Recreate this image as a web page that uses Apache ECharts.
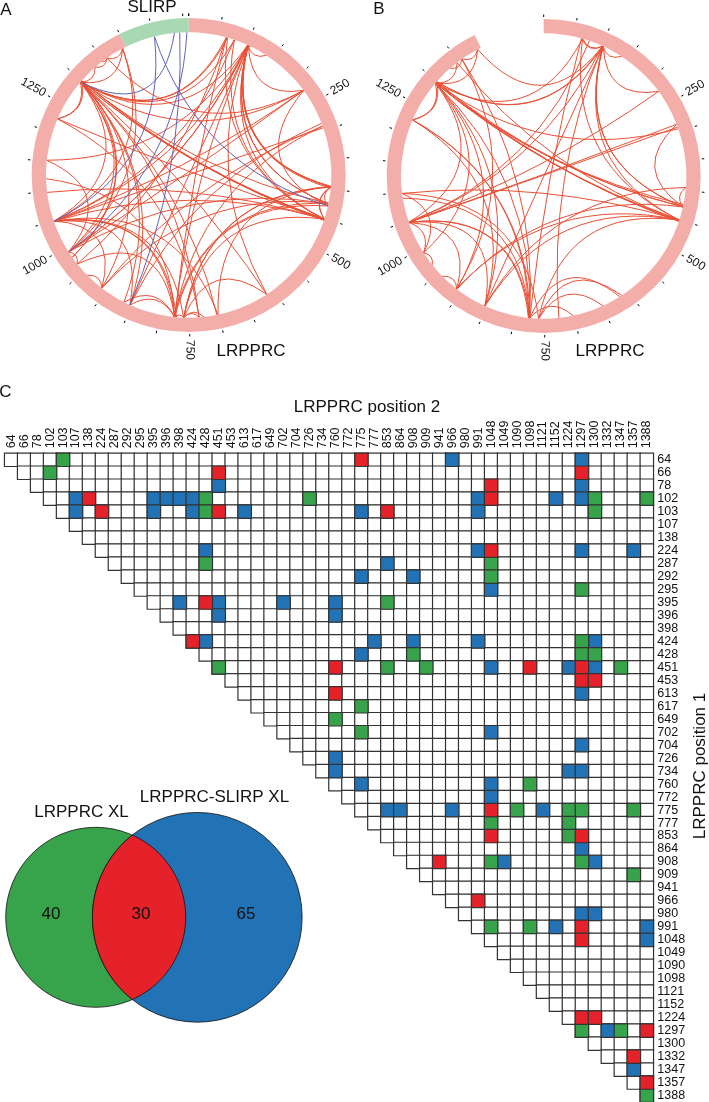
<!DOCTYPE html>
<html>
<head>
<meta charset="utf-8">
<style>html,body{margin:0;padding:0;background:#fff}#c{width:709px;height:1102px}</style>
<script src="https://cdn.jsdelivr.net/npm/echarts@6/dist/echarts.min.js"></script>
</head>
<body>
<div id="c"></div>
<script>
const positions = [64,66,78,102,103,107,138,224,287,292,295,395,396,398,424,428,451,453,613,617,649,702,704,726,734,760,772,775,777,853,864,908,909,941,966,980,991,1048,1049,1090,1098,1121,1152,1224,1297,1300,1332,1347,1357,1388];
// row residue -> column residues
const blueRows = {64:[966,1297],78:[451,1297],102:[107,395,396,398,424,991,1152,1297],103:[107,395,424,613,775,991],224:[428,991,1297,1357],287:[853],292:[775,908],295:[1048],395:[398,451,702,760],396:[451,760],424:[428,777,908,991,1300],428:[775],451:[1048,1224,1300],613:[1297],702:[1048],704:[1297],726:[760],734:[760,1224,1297],760:[775,1048],772:[1048],775:[853,864,966,1121],864:[1297],908:[1049,1300],980:[1297,1300],991:[1152,1388],1048:[1388],1297:[1332],1347:[1357]};
const redRows = {64:[775],66:[451,1297],78:[1048],102:[138,1048],103:[224,451,853],224:[1048],395:[428],424:[424],451:[760,1098,1297],453:[1297,1300],613:[760],775:[1048],853:[1048,1297],908:[941],966:[991],991:[1297],1048:[1297],1224:[1297,1300],1297:[1388],1332:[1357],1357:[1388]};
const greenRows = {64:[103],66:[102],102:[428,726,1300,1388],103:[428,1300],287:[428,1048],292:[1048],295:[1297],395:[853],424:[1297],428:[908,1297,1300],451:[451,853,909,1347],617:[775],649:[760],702:[775],760:[1098],775:[1090,1224,1297,1357],777:[1048,1224],853:[1224],908:[1048,1297],909:[1357],991:[1048,1098],1297:[1297,1347],1388:[1388]};
// SLIRP residue, LRPPRC residue
const slirpLinks = [[51,428],[51,1048],[85,1297],[94,853],[106,991]];
const lrpprcLength = 1394;
const slirpLength = 109;
const ringLabels = [250,500,750,1000,1250];
const lrpprcTicks = [0,50,100,150,200,250,300,350,400,450,500,550,600,650,700,750,800,850,900,950,1000,1050,1100,1150,1200,1250,1300,1350];
const slirpTicks = [0,50,100];
const vennNames = ['LRPPRC XL','LRPPRC-SLIRP XL','both'];
const vennCounts = [40,65,30];

const FONT = '"Liberation Sans", Arial, sans-serif';
const TOTAL = lrpprcLength + slirpLength;
const R_OUT = 157, R_IN = 142.7, R_AXIS = 159;
const RED_LINE = '#ea5036', BLUE_LINE = '#5f63b5', PINK = '#f4aeaa', MINT = '#a8d9b2';
const CELL_BLUE = '#2273b5', CELL_RED = '#e52229', CELL_GREEN = '#37a34a', CELL_LINE = '#333333';

const pairs = rows => Object.keys(rows).flatMap(r => rows[r].map(c => [+r, c]));
const cells = rows => pairs(rows).map(([r, c]) => [positions.indexOf(c), positions.indexOf(r)]);
const triangle = positions.flatMap((_, r) => positions.map((_, c) => [c, r]).filter(([c]) => c >= r));

// how far the control point of a chord stays from the centre, by angular gap
const BUNDLE = [[0,1],[17.6,.84],[29,.69],[44,.42],[78,.22],[130,.05],[180,0]];
function bundleRadius(deg) {
  for (let i = 1; i < BUNDLE.length; i++) {
    if (deg <= BUNDLE[i][0]) {
      const [a, va] = BUNDLE[i - 1], [b, vb] = BUNDLE[i];
      return va + (vb - va) * (deg - a) / (b - a);
    }
  }
  return 0;
}
function chord(color) {
  return function (params, api) {
    const a = api.value(0), b = api.value(1);
    let gap = Math.abs(a - b), mid = (a + b) / 2;
    if (gap > TOTAL / 2) { gap = TOTAL - gap; mid = (mid + TOTAL / 2) % TOTAL; }
    const deg = gap / TOTAL * 360;
    const rc = R_IN * bundleRadius(deg);
    const p1 = api.coord([R_IN, a]), p2 = api.coord([R_IN, b]), c = api.coord([rc, mid]);
    return { type: 'bezierCurve', shape: { x1: p1[0], y1: p1[1], x2: p2[0], y2: p2[1], cpx1: c[0], cpy1: c[1] },
      style: { stroke: color, fill: null, lineWidth: 1 } };
  };
}
function ringItem(params, api) {
  const cs = params.coordSys;
  const s = (api.value(0) / TOTAL * 360 - 90) * Math.PI / 180;
  const e = (api.value(1) / TOTAL * 360 - 90) * Math.PI / 180;
  return { type: 'sector', shape: { cx: cs.cx, cy: cs.cy, r: R_OUT, r0: R_IN, startAngle: s, endAngle: e, clockwise: true },
    style: { fill: api.value(0) >= lrpprcLength ? MINT : PINK, stroke: null } };
}
function ringLabelItem(params, api) {
  const v = api.value(0), txt = String(v), deg = v / TOTAL * 360;
  const r = 165 + txt.length * 3.34;
  const p = api.coord([r, v]);
  const rot = (deg <= 180 ? 90 - deg : 270 - deg) * Math.PI / 180;
  return { type: 'text', x: p[0], y: p[1], rotation: rot,
    style: { text: txt, x: 0, y: 0, align: 'center', verticalAlign: 'middle', fill: '#111', font: '12px ' + FONT } };
}
function panel(idx, center, linkSets, rings, ticks) {
  const polar = { center: center, radius: R_AXIS };
  const angleAxis = { polarIndex: idx, type: 'value', min: 0, max: TOTAL, startAngle: 90, splitLine: { show: false }, axisLine: { show: false },
    axisLabel: { show: false }, axisTick: { show: true, length: 2.5, customValues: ticks, lineStyle: { color: '#000', width: 1 } } };
  const radiusAxis = { polarIndex: idx, type: 'value', min: 0, max: R_AXIS, show: false };
  const common = { type: 'custom', coordinateSystem: 'polar', polarIndex: idx, clip: false, silent: true };
  const series = linkSets.map(s => Object.assign({}, common, { renderItem: chord(s.color), data: s.data }));
  series.push(Object.assign({}, common, { renderItem: ringItem, data: rings }));
  series.push(Object.assign({}, common, { renderItem: ringLabelItem, data: ringLabels.map(v => [v, v]) }));
  return { polar, angleAxis, radiusAxis, series };
}
const allTicks = lrpprcTicks.concat(slirpTicks.map(t => t + lrpprcLength), [TOTAL - 0.01]);
const panelA = panel(0, [188.7, 175], [
  { color: RED_LINE, data: pairs(blueRows).concat(pairs(redRows)) },
  { color: BLUE_LINE, data: slirpLinks.map(([s, l]) => [lrpprcLength + s, l]) }
], [[0, lrpprcLength], [lrpprcLength, TOTAL]], allTicks);
const panelB = panel(1, [543.7, 176], [
  { color: RED_LINE, data: pairs(greenRows).concat(pairs(redRows)) }
], [[0, lrpprcLength]], lrpprcTicks);

function heat(name, data, color) {
  return { name, type: 'heatmap', xAxisIndex: 0, yAxisIndex: 0, data: data.map(d => [d[0], d[1], 1]), progressive: 0, silent: true,
    itemStyle: { color, borderColor: CELL_LINE, borderWidth: 1.2 }, emphasis: { disabled: true } };
}

// Venn: circle areas follow the counts
function vennItem(params, api) {
  const i = params.dataIndex;
  const r1 = 90 * Math.sqrt((vennCounts[0] + vennCounts[2]) / 70);
  const r2 = 90 * Math.sqrt((vennCounts[1] + vennCounts[2]) / 70);
  const c1 = [95.7, 917.3], c2 = [197.3, 917.3];
  const line = { stroke: '#111', lineWidth: 0.8 };
  const label = (x, t) => ({ type: 'text', x: x, y: 914, z2: 5,
    style: { text: t, x: 0, y: 0, align: 'center', verticalAlign: 'middle', fill: '#111', font: '17px ' + FONT } });
  if (i === 0) return { type: 'group', children: [
    { type: 'circle', shape: { cx: c1[0], cy: c1[1], r: r1 }, style: Object.assign({ fill: CELL_GREEN }, line) }, label(51, String(api.value(0)))] };
  if (i === 1) return { type: 'group', children: [
    { type: 'circle', shape: { cx: c2[0], cy: c2[1], r: r2 }, style: Object.assign({ fill: CELL_BLUE }, line) }, label(246, String(api.value(0)))] };
  const d = c2[0] - c1[0];
  const a = (d * d + r1 * r1 - r2 * r2) / (2 * d);
  const t1 = Math.acos(a / r1), t2 = Math.acos((d - a) / r2);
  const pts = [];
  for (let k = 0; k <= 60; k++) { const t = -t1 + 2 * t1 * k / 60; pts.push([c1[0] + r1 * Math.cos(t), c1[1] + r1 * Math.sin(t)]); }
  for (let k = 0; k <= 60; k++) { const t = t2 - 2 * t2 * k / 60; pts.push([c2[0] - r2 * Math.cos(t), c2[1] + r2 * Math.sin(t)]); }
  return { type: 'group', children: [
    { type: 'polygon', shape: { points: pts }, style: Object.assign({ fill: CELL_RED }, line) }, label(141, String(api.value(0)))] };
}

const txt = (t, x, y, size, extra) => Object.assign({ type: 'text', x, y, silent: true,
  style: { text: t, x: 0, y: 0, align: 'center', verticalAlign: 'middle', fill: '#111', font: size + 'px ' + FONT } }, extra || {});

const option = {
  animation: false,
  backgroundColor: '#fff',
  polar: [panelA.polar, panelB.polar],
  angleAxis: [panelA.angleAxis, panelB.angleAxis],
  radiusAxis: [panelA.radiusAxis, panelB.radiusAxis],
  grid: [{ left: 4.7, top: 453.3, width: 648.6, height: 648.7, containLabel: false }],
  xAxis: [{ type: 'category', position: 'top', data: positions, axisLine: { show: false }, axisTick: { show: false }, splitLine: { show: false },
    axisLabel: { interval: 0, rotate: -90, margin: 5, fontSize: 12.5, color: '#111', fontFamily: FONT } }],
  yAxis: [{ type: 'category', position: 'right', inverse: true, data: positions, axisLine: { show: false }, axisTick: { show: false }, splitLine: { show: false },
    axisLabel: { interval: 0, margin: 4, fontSize: 12.5, color: '#111', fontFamily: FONT } }],
  graphic: [
    txt('A', 6, 10, 17), txt('B', 379, 9, 17), txt('C', 5.5, 392, 17),
    txt('SLIRP', 152, 7, 17), txt('LRPPRC', 251, 351, 17), txt('LRPPRC', 610, 351, 17),
    txt('LRPPRC position 2', 367, 407, 17),
    txt('LRPPRC position 1', 700, 766, 17, { rotation: Math.PI / 2 }),
    txt('LRPPRC XL', 81.5, 812.7, 17), txt('LRPPRC-SLIRP XL', 214.5, 797, 17)
  ],
  series: [].concat(panelA.series, panelB.series, [
    heat('none', triangle, '#fff'),
    heat('LRPPRC-SLIRP XL', cells(blueRows), CELL_BLUE),
    heat('LRPPRC XL', cells(greenRows), CELL_GREEN),
    heat('both', cells(redRows), CELL_RED),
    { type: 'custom', coordinateSystem: 'none', silent: true, clip: false, renderItem: vennItem, data: vennCounts.map((v, i) => ({ name: vennNames[i], value: [v] })) }
  ])
};
echarts.init(document.getElementById('c'), null, { renderer: 'canvas' }).setOption(option);
</script>
</body>
</html>
